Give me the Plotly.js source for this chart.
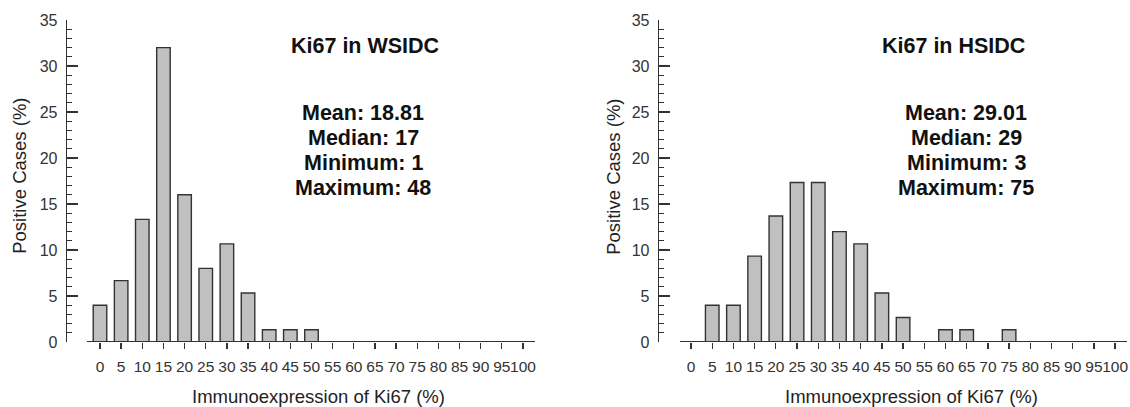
<!DOCTYPE html>
<html>
<head>
<meta charset="utf-8">
<script src="https://cdn.plot.ly/plotly-3.0.1.min.js"></script>
<style>html,body{margin:0;padding:0;background:#fff;}#chart{width:1130px;height:407px;}</style>
</head>
<body>
<div id="chart"></div>
<script>
// ---- data ----
const categories = [0,5,10,15,20,25,30,35,40,45,50,55,60,65,70,75,80,85,90,95,100];
const tickLabels = ['0','5','10','15','20','25','30','35','40','45','50','55','60','65','70','75','80','85','90','95','100'];
const wsidcValues = [4.0,6.67,13.33,32.0,16.0,8.0,10.67,5.33,1.33,1.33,1.33,0,0,0,0,0,0,0,0,0,0];
const hsidcValues = [0,4.0,4.0,9.33,13.7,17.33,17.33,12.0,10.67,5.33,2.67,0,1.33,1.33,0,1.33,0,0,0,0,0];
const panelTitles = ['Ki67 in WSIDC','Ki67 in HSIDC'];
const wsidcStats = ['Mean: 18.81','Median: 17','Minimum: 1','Maximum: 48'];
const hsidcStats = ['Mean: 29.01','Median: 29','Minimum: 3','Maximum: 75'];
const xTitle = 'Immunoexpression of Ki67 (%)';
const yTitle = 'Positive Cases (%)';

// ---- styling ----
const W = 1130, H = 407;
const MT = 20, MB = 64.5;
const PH = H - MT - MB;
const py = px => (H - MB - px) / PH;   // pixel row -> paper y
const FONT = '"Liberation Sans", Arial, Helvetica, sans-serif';
const barStyle = {color:'#c0c0c0', line:{color:'#333', width:1.4}};

const traces = [
  {type:'bar', x:categories, y:wsidcValues, xaxis:'x', yaxis:'y', width:3.2, marker:barStyle, hoverinfo:'x+y'},
  {type:'bar', x:categories, y:hsidcValues, xaxis:'x2', yaxis:'y2', width:3.2, marker:barStyle, hoverinfo:'x+y'}
];

function xAxis(domain, range){
  return {domain:domain.map(v=>v/W), range:range, showgrid:false, zeroline:false, showline:false,
    tickmode:'array', tickvals:categories, ticktext:tickLabels, tickangle:0, ticks:'outside', ticklen:6, tickwidth:1.3,
    tickcolor:'#333', ticklabelstandoff:4, tickfont:{family:FONT, size:15.5, color:'#333'}, fixedrange:true};
}
function yAxis(anchor){
  return {anchor:anchor, range:[0,35], showgrid:false, zeroline:false, showline:true, linecolor:'#333', linewidth:1.3,
    tickmode:'linear', tick0:0, dtick:5, ticks:'inside', ticklen:11, tickwidth:1.3, tickcolor:'#333',
    minor:{dtick:1, ticks:'inside', ticklen:5, tickwidth:1, tickcolor:'#333'},
    ticklabelstandoff:5, tickfont:{family:FONT, size:16, color:'#333'}, fixedrange:true};
}

const annotations = [];
function panelText(xref, tx, title, statsX, stats){
  annotations.push({xref:xref, yref:'paper', x:tx, y:py(46), yanchor:'middle', xanchor:'center', showarrow:false,
    text:'<b>'+title+'</b>', font:{family:FONT, size:21.5, color:'#111'}});
  const ys = [113, 138, 163, 188.5];
  stats.forEach((s,i)=>annotations.push({xref:xref, yref:'paper', x:statsX, y:py(ys[i]), yanchor:'middle', xanchor:'center',
    showarrow:false, text:'<b>'+s+'</b>', font:{family:FONT, size:21.5, color:'#111'}}));
}
panelText('x', 62.6, panelTitles[0], 62.2, wsidcStats);
panelText('x2', 61.8, panelTitles[1], 64.9, hsidcStats);

// axis titles
[[318,397,0],[911,397,0],[19.5,176.5,-90],[614,177,-90]].forEach((p,i)=>{
  annotations.push({xref:'paper', yref:'paper', x:p[0]/W, y:py(p[1]), xanchor:'center', yanchor:'middle', showarrow:false,
    textangle:p[2], text: i<2 ? xTitle : yTitle, font:{family:FONT, size:18.5, color:'#222'}});
});

const layout = {
  width:W, height:H, margin:{l:0, r:0, t:MT, b:MB}, paper_bgcolor:'#fff', plot_bgcolor:'#fff',
  showlegend:false, bargap:0,
  xaxis: xAxis([67,535],[-7.8,102.84]),
  yaxis: yAxis('x'),
  xaxis2: xAxis([659,1127],[-7.55,102.8]),
  yaxis2: yAxis('x2'),
  annotations: annotations,
  shapes:[
    {type:'line', xref:'x', yref:'y', x0:-3.1, x1:102.84, y0:0, y1:0, line:{color:'#333', width:2}, layer:'above'},
    {type:'line', xref:'x2', yref:'y2', x0:-2.6, x1:102.8, y0:0, y1:0, line:{color:'#333', width:2}, layer:'above'}
  ]
};

Plotly.newPlot('chart', traces, layout, {displayModeBar:false, staticPlot:true});
</script>
</body>
</html>
